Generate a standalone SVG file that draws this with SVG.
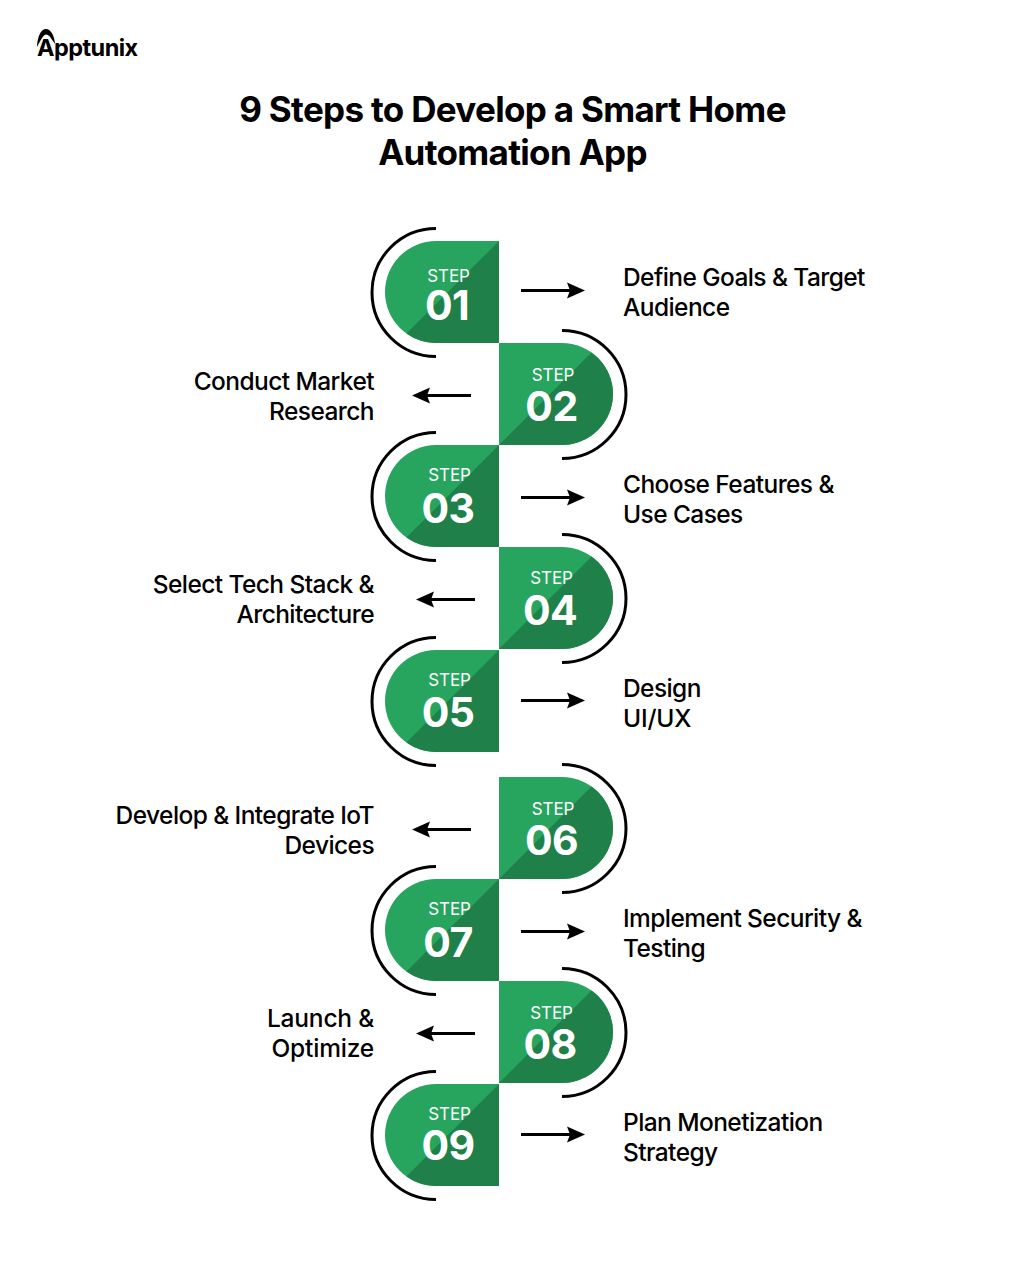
<svg xmlns="http://www.w3.org/2000/svg" width="1024" height="1269" viewBox="0 0 1024 1269">
<style>
text{font-family:Inter,"Liberation Sans",sans-serif}
.t{font-size:35px;font-weight:700;fill:#000;text-anchor:middle;letter-spacing:-.68px}
.l{font-size:24.5px;font-weight:500;fill:#000;letter-spacing:-.58px}
.w{letter-spacing:-.2px}
.r{text-anchor:end}
.s{font-size:17px;fill:#fff;text-anchor:middle;font-weight:400;letter-spacing:-.1px}
.n{font-size:41px;font-weight:700;fill:#fff;text-anchor:middle;letter-spacing:-.6px}
.arc{fill:none;stroke:#000;stroke-width:3}
.ln{fill:none;stroke:#000;stroke-width:3}
.ah{fill:#000}
</style>
<defs>
<g id="left">
<path d="M499 0V102H436A51 51 0 0 1 436 0Z" fill="#27a45e"/>
<path d="M499 0V102H436A51 51 0 0 1 406.440 92.560Z" fill="#1f8049"/>
<path class="arc" d="M436 -12.500A64 64 0 0 0 436 115.500"/>
</g>
<g id="right">
<path d="M499 0H562A51 51 0 0 1 562 102H499Z" fill="#27a45e"/>
<path d="M499 102L591.560 9.440A51 51 0 0 1 562 102Z" fill="#1f8049"/>
<path class="arc" d="M562 -12.500A64 64 0 0 1 562 115.500"/>
</g>
<g id="ar"><path class="ln" d="M0 .5H52"/><path class="ah" d="M46 -7.500L64 .5L46 8.500L49 .5Z"/></g>
<g id="al"><path class="ln" d="M59 .5H8"/><path class="ah" d="M18 -7.500L0 .5L18 8.500L15 .5Z"/></g>
</defs>
<g id="logo">
<path d="M37 47C37.500 36 41 29 46 29C51 29 54.500 36 55 44L51.500 39C49.500 35.500 47.500 34.500 46 34.500C44 34.500 41 39 37 47Z" fill="#000"/>
<text x="37" y="56" font-size="23.500" font-weight="700" fill="#000" letter-spacing="-.55">Apptunix</text>
</g>
<g id="title">
<text class="t" x="512.500" y="122">9 Steps to Develop a Smart Home</text>
<text class="t" x="512.500" y="165">Automation App</text>
</g>
<g id="connectors">
<use href="#ar" x="521" y="290"/>
<use href="#al" x="412" y="395"/>
<use href="#ar" x="521" y="497"/>
<use href="#al" x="416" y="599"/>
<use href="#ar" x="521" y="700"/>
<use href="#al" x="412" y="829"/>
<use href="#ar" x="521" y="931"/>
<use href="#al" x="416" y="1033"/>
<use href="#ar" x="521" y="1134"/>
</g>
<g id="step1"><use href="#left" y="241"/><text class="s" x="448.500" y="282">STEP</text><text class="n" x="447" y="320">01</text><text class="l" x="623" y="286">Define Goals &amp; Target</text><text class="l" x="623" y="316">Audience</text></g>
<g id="step2"><use href="#right" y="343"/><text class="s" x="553" y="381">STEP</text><text class="n" x="551.500" y="420.500">02</text><text class="l r" x="374" y="390">Conduct Market</text><text class="l r" x="374" y="420">Research</text></g>
<g id="step3"><use href="#left" y="445"/><text class="s" x="449.500" y="481">STEP</text><text class="n" x="448" y="522.500">03</text><text class="l" x="623" y="493">Choose Features &amp;</text><text class="l" x="623" y="523">Use Cases</text></g>
<g id="step4"><use href="#right" y="547"/><text class="s" x="551.500" y="584">STEP</text><text class="n" x="550" y="624.500">04</text><text class="l r" x="374" y="593">Select Tech Stack &amp;</text><text class="l r" x="374" y="623">Architecture</text></g>
<g id="step5"><use href="#left" y="650"/><text class="s" x="449.500" y="686">STEP</text><text class="n" x="448" y="726.500">05</text><text class="l" x="623" y="697">Design</text><text class="l w" x="623" y="727">UI/UX</text></g>
<g id="step6"><use href="#right" y="777"/><text class="s" x="553" y="815">STEP</text><text class="n" x="551.500" y="854.500">06</text><text class="l r" x="374" y="824">Develop &amp; Integrate IoT</text><text class="l r" x="374" y="854">Devices</text></g>
<g id="step7"><use href="#left" y="879"/><text class="s" x="449.500" y="915">STEP</text><text class="n" x="448" y="956.500">07</text><text class="l" x="623" y="927">Implement Security &amp;</text><text class="l" x="623" y="957">Testing</text></g>
<g id="step8"><use href="#right" y="981"/><text class="s" x="551.500" y="1019">STEP</text><text class="n" x="550" y="1058.500">08</text><text class="l r w" x="374" y="1027">Launch &amp;</text><text class="l r w" x="374" y="1057">Optimize</text></g>
<g id="step9"><use href="#left" y="1084"/><text class="s" x="449.500" y="1120">STEP</text><text class="n" x="448" y="1160">09</text><text class="l" x="623" y="1131">Plan Monetization</text><text class="l" x="623" y="1161">Strategy</text></g>
</svg>
